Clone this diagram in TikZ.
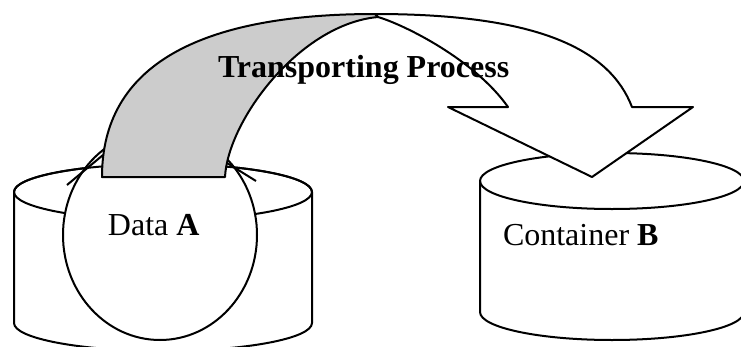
\documentclass[tikz,border=0pt]{standalone}
\usepackage{fontspec}
\setmainfont{Liberation Serif}
\usepackage{tikz}

\begin{document}
\begin{tikzpicture}
 [x=0.375pt, y=-0.375pt, line width=0.75pt, line join=round,
  can/.style={fill=white,draw=black},
  band/.style={fill=black!20,draw=black},
  label text/.style={inner sep=0pt, anchor=base west, font=\fontsize{12}{14}\selectfont}]

\useasboundingbox (0,0) rectangle (741,347);
\clip (0,0) rectangle (741,347);

% container of the data
\path[can] (14,192) -- (14,323) arc[start angle=180, end angle=0, x radius=149, y radius=28]
   -- (312,192) arc[start angle=0, end angle=-180, x radius=149, y radius=28] -- cycle;
\draw (14,192) arc[start angle=180, end angle=0, x radius=149, y radius=28];

 \path[can] (160,235) ellipse [x radius=97, y radius=105];
\draw (312,192) arc[start angle=0, end angle=-180, x radius=149, y radius=28];
\draw (67,185) -- (103,155);
\draw (256,181) -- (227,163);

% container B
\path[can] (480,181) -- (480,312) arc[start angle=180, end angle=0, x radius=132, y radius=28]
   -- (744,181) arc[start angle=0, end angle=-180, x radius=132, y radius=28] -- cycle;
\draw (480,181) arc[start angle=180, end angle=0, x radius=132, y radius=28];

% the curved arrow
\path[band] (102,177) .. controls (102,65) and (200,14) .. (375,14) -- (378,17)
   .. controls (300,24) and (228,120) .. (225,177) -- cycle;
\path[can] (375,14) .. controls (540,14) and (610,50) .. (632,107) -- (693,107) -- (592,177)
   -- (448,107) -- (508,107) .. controls (475,60) and (405,25) .. (378,17) -- cycle;

  \node[label text] (dataA) at (107,235) {Data \textbf{A}};
  \node[label text] (contB) at (502,245) {Container \textbf{B}};
  \node[label text] (proc) at (217,77) {\bfseries Transporting Process};

\end{tikzpicture}
\end{document}
